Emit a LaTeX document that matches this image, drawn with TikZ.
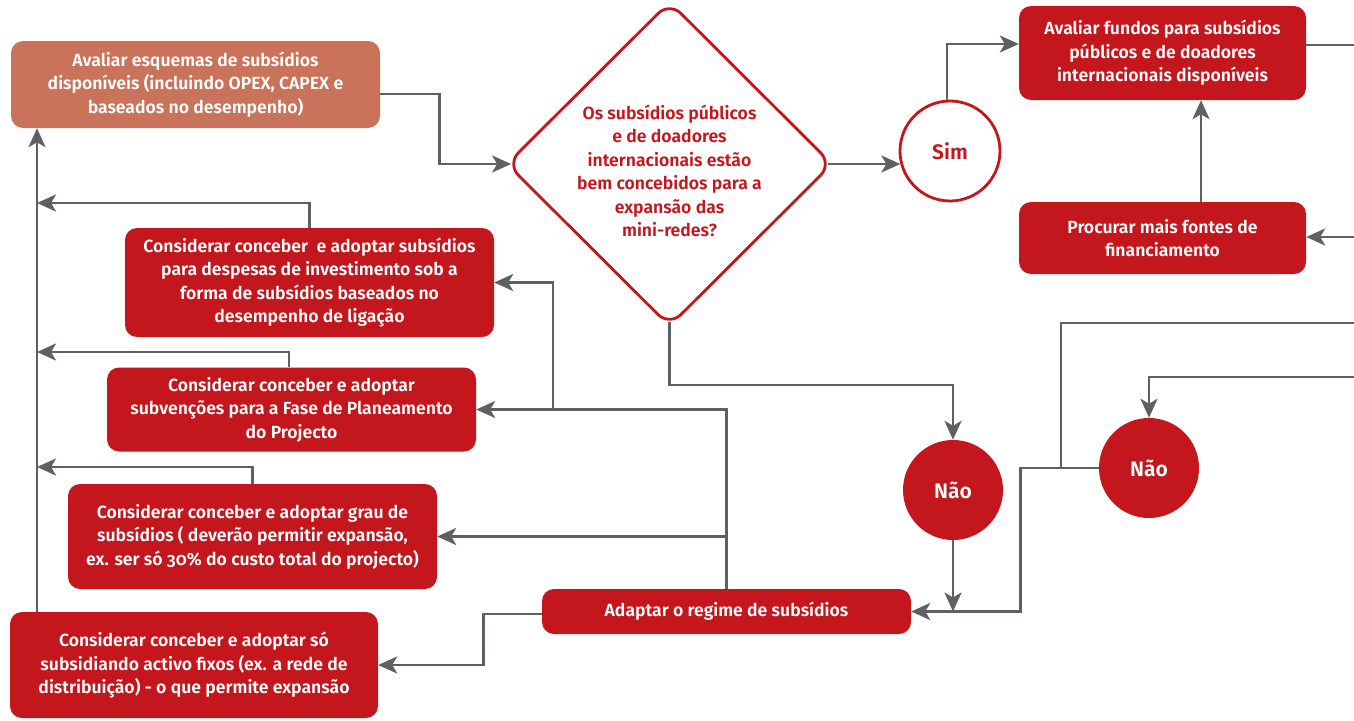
\documentclass[tikz,border=0pt]{standalone}
\usepackage{fontspec}
\IfFontExistsTF{Fira Sans SemiBold}
  {\setmainfont{Fira Sans}[BoldFont={Fira Sans SemiBold},Numbers=OldStyle]}
  {\setmainfont{Fira Sans}[Numbers=OldStyle]}
\usetikzlibrary{arrows.meta,shapes.geometric}
\definecolor{boxred}{HTML}{C3161D}
\definecolor{boxorange}{HTML}{C9735A}
\definecolor{linegray}{HTML}{5D6163}
\tikzset{
  txt/.style={font=\fontsize{17.6}{23.5}\selectfont\bfseries, align=center},
  bigtxt/.style={font=\fontsize{21}{24}\selectfont\bfseries},
  redbox/.style={txt, fill=boxred, text=white, rounded corners=12pt, inner sep=0pt},
  orangebox/.style={redbox, fill=boxorange},
  question/.style={diamond, draw=boxred, line width=2.8pt, fill=white, rounded corners=16pt,
                   inner sep=0pt, minimum width=326pt, minimum height=325pt},
  qtext/.style={txt, text=boxred},
  yescircle/.style={circle, draw=boxred, line width=2.8pt, fill=white, minimum size=100pt,
                    inner sep=0pt, bigtxt, text=boxred},
  nocircle/.style={circle, fill=boxred, minimum size=100pt, inner sep=0pt, bigtxt, text=white},
  link/.style={draw=linegray, line width=2.8pt},
  conn/.style={link, -{Stealth[length=19pt,width=17pt,inset=5pt]}},
}
\begin{document}
\begin{tikzpicture}[x=1pt,y=-1pt]
\useasboundingbox (0,0) rectangle (1354,720);

% process boxes
\node[orangebox, minimum width=369pt, minimum height=87pt] (b1) at (195.5,84.5)
  {Avaliar esquemas de subsídios\\disponíveis (incluindo OPEX, CAPEX e\\baseados no desempenho)};
\node[redbox, minimum width=369pt, minimum height=109pt] (b2) at (309.5,282.5)
  {Considerar conceber\ \ e adoptar subsídios\\para despesas de investimento sob a\\forma de subsídios baseados no\\desempenho de ligação};
\node[redbox, minimum width=369pt, minimum height=84pt] (b3) at (291.5,409.5)
  {Considerar conceber e adoptar\\subvenções para a Fase de Planeamento\\do Projecto};
\node[redbox, minimum width=369pt, minimum height=105pt] (b4) at (252.5,536.5)
  {Considerar conceber e adoptar grau de\\subsídios ( deverão permitir expansão,\\ex. ser só 30\% do custo total do projecto)};
\node[redbox, minimum width=368pt, minimum height=106pt] (b5) at (194,665)
  {Considerar conceber e adoptar só\\subsidiando activo fixos (ex. a rede de\\distribuição) - o que permite expansão};
\node[redbox, minimum width=369pt, minimum height=45pt] (ad) at (726.5,611.5)
  {Adaptar o regime de subsídios};
\node[redbox, minimum width=287pt, minimum height=94pt] (f1) at (1162.5,53)
  {Avaliar fundos para subsídios\\públicos e de doadores\\internacionais disponíveis};
\node[redbox, minimum width=287pt, minimum height=72pt] (f2) at (1162.5,238)
  {Procurar mais fontes de\\financiamento};

% decision (rounded tips sit about 6pt inside the geometric anchors)
\node[question] (dq) at (669.5,164) {};
\node[qtext, yshift=-7pt] (dqt) at (dq.center) {Os subsídios públicos\\e de doadores\\internacionais estão\\bem concebidos para a\\expansão das\\mini-redes?};

% answers
\node[yescircle] (sim) at (950,151) {Sim};
\node[nocircle] (n1) at (953,490) {Não};
\node[nocircle] (n2) at (1149,468) {Não};

% free ends and junctions
\coordinate (spine) at (37,400);
\coordinate (j2) at (37,203);
\coordinate (j3) at (37,352);
\coordinate (j4) at (37,467);
\coordinate (k) at (553,410);
\coordinate (outA) at (1354,45);
\coordinate (inB) at (1354,237);
\coordinate (brC) at (1061,323);
\coordinate (outC) at (1354,323);
\coordinate (inD) at (1354,377);

% connectors
\draw[conn] ([yshift=-9.5pt]b1.east) -- ++(59,0) |- ([xshift=6pt]dq.west);
\draw[conn] ([xshift=-6pt]dq.east) -- (dq.east -| sim.195);
\draw[conn] ([xshift=-3pt]sim.north) |- ([yshift=9pt]f1.west);
\draw[link] (f1.east |- outA) -- (outA);
\draw[conn] (inB) -- (inB -| f2.east);
\draw[conn] ([xshift=38.5pt]f2.north) -- ([xshift=38.5pt]f1.south);

\draw[conn] (b5.north -| spine) -- (b1.south -| spine);
\draw[conn] (b2.north) |- (j2);
\draw[conn] ([xshift=-2.5pt]b3.north) |- (j3);
\draw[conn] (b4.north) |- (j4);

\draw[conn] (ad.north) |- (b3.east);
\draw[conn] (k) |- (b2.east);
\draw[conn] (ad.north |- b4.east) -- (b4.east);
\draw[conn] ([yshift=-2.5pt]ad.west) -- ++(-58,0) |- (b5.east);

\draw[conn] ([yshift=6pt]dq.south) -- ++(0,63) -| (n1.north);
\draw[conn] (n1.south) -- (n1.south |- ad.east);
\draw[conn] (n2.west) -- ++(-78,0) |- (ad.east);
\draw[link] (n2.west -| brC) |- (outC);
\draw[conn] (inD) -| (n2.north);
\end{tikzpicture}
\end{document}
